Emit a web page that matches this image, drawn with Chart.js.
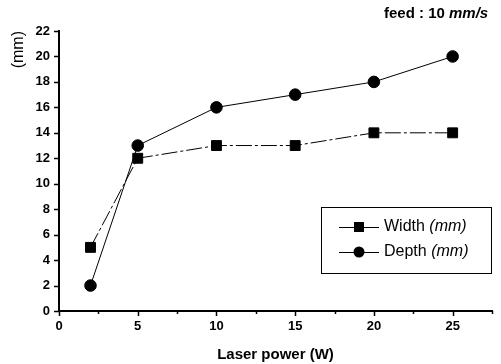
<!DOCTYPE html>
<html>
<head>
<meta charset="utf-8">
<script src="https://cdn.jsdelivr.net/npm/chart.js@4/dist/chart.umd.min.js"></script>
<style>
  html, body { margin: 0; padding: 0; background: #fff; }
  #wrap { width: 501px; height: 364px; }
</style>
</head>
<body>
<div id="wrap"><canvas id="lineChart" width="501" height="364"></canvas></div>
<script>
// values
const power = [2, 5, 10, 15, 20, 25];
const widthMM = [5, 12, 13, 13, 14, 14];
const depthMM = [2, 13, 16, 17, 18, 20];

const xMajorEvery = 5;
const yMajorEvery = 2;

Chart.defaults.font.family = "'Liberation Sans', Arial, sans-serif";
Chart.defaults.color = "#000";

function toPoints(xs, ys) {
    return xs.map((x, i) => ({ x: x, y: ys[i] }));
}

// outward tick marks, long for labelled ticks, short for the others
const tickMarks = {
    id: "tickMarks",
    afterDraw(chart) {
        const ctx = chart.ctx;
        const xs = chart.scales.x;
        const ys = chart.scales.y;
        ctx.save();
        ctx.strokeStyle = "#000";
        ctx.lineWidth = 1.5;
        ctx.beginPath();
        ys.ticks.forEach(t => {
            const py = Math.round(ys.getPixelForValue(t.value)) + 0.5;
            const len = t.value % yMajorEvery === 0 ? 5 : 3;
            ctx.moveTo(ys.right - len, py);
            ctx.lineTo(ys.right, py);
        });
        xs.ticks.forEach(t => {
            const px = Math.round(xs.getPixelForValue(t.value)) + 0.5;
            const len = t.value % xMajorEvery === 0 ? 5 : 3;
            ctx.moveTo(px, xs.top);
            ctx.lineTo(px, xs.top + len);
        });
        ctx.stroke();
        ctx.restore();
    }
};

// boxed legend with italic units, plus the feed note
const notes = {
    id: "notes",
    afterDraw(chart) {
        const ctx = chart.ctx;
        ctx.save();

        // feed : 10 mm/s
        ctx.fillStyle = "#000";
        ctx.textBaseline = "middle";
        ctx.font = "bold 15px 'Liberation Sans', Arial, sans-serif";
        const part1 = "feed : 10 ";
        ctx.fillText(part1, 384, 14);
        const w1 = ctx.measureText(part1).width;
        ctx.font = "italic bold 15px 'Liberation Sans', Arial, sans-serif";
        ctx.fillText("mm/s", 384 + w1, 14);

        // legend box
        ctx.strokeStyle = "#000";
        ctx.lineWidth = 1;
        ctx.strokeRect(321.5, 207.5, 170, 66);

        const rows = [
            { ds: chart.data.datasets[0], name: "Width ", y: 227 },
            { ds: chart.data.datasets[1], name: "Depth ", y: 252 }
        ];
        rows.forEach(r => {
            ctx.beginPath();
            ctx.lineWidth = 1;
            ctx.moveTo(339, r.y + 0.5);
            ctx.lineTo(379, r.y + 0.5);
            ctx.stroke();
            ctx.fillStyle = "#000";
            if (r.ds.pointStyle === "rect") {
                ctx.fillRect(354, r.y - 5, 10, 10);
            } else {
                ctx.beginPath();
                ctx.arc(359, r.y, 5.5, 0, Math.PI * 2);
                ctx.fill();
            }
            ctx.font = "16px 'Liberation Sans', Arial, sans-serif";
            ctx.fillText(r.name, 384, r.y);
            const w = ctx.measureText(r.name).width;
            ctx.font = "italic 16px 'Liberation Sans', Arial, sans-serif";
            ctx.fillText("(mm)", 384 + w, r.y);
        });
        ctx.restore();
    }
};

new Chart(document.getElementById("lineChart"), {
    type: "line",
    data: {
        datasets: [{
            label: "Width (mm)",
            data: toPoints(power, widthMM),
            borderColor: "#000",
            backgroundColor: "#000",
            borderWidth: 1,
            borderDash: [16, 3, 3, 3],
            pointStyle: "rect",
            pointRadius: 7,
            tension: 0
        }, {
            label: "Depth (mm)",
            data: toPoints(power, depthMM),
            borderColor: "#000",
            backgroundColor: "#000",
            borderWidth: 1,
            pointStyle: "circle",
            pointRadius: 5.8,
            tension: 0
        }]
    },
    options: {
        responsive: false,
        animation: false,
        layout: { padding: { top: 31, right: 9, left: 0, bottom: 0 } },
        plugins: {
            legend: { display: false },
            tooltip: { enabled: false }
        },
        scales: {
            x: {
                type: "linear",
                min: 0,
                max: 27.5,
                afterFit: s => { s.height = 53; },
                grid: { display: false, drawTicks: false },
                border: { display: true, color: "#000", width: 2 },
                ticks: {
                    stepSize: 2.5,
                    padding: 8,
                    font: { size: 13, weight: "bold" },
                    callback: v => (v % xMajorEvery === 0 ? v : "")
                },
                title: {
                    display: true,
                    text: "Laser power (W)",
                    font: { size: 15, weight: "bold" },
                    padding: { top: 2, bottom: 0 }
                }
            },
            y: {
                min: 0,
                max: 22,
                afterFit: s => { s.width = 59; },
                grid: { display: false, drawTicks: false },
                border: { display: true, color: "#000", width: 2 },
                ticks: {
                    stepSize: 1,
                    padding: 9,
                    font: { size: 13, weight: "bold" },
                    callback: v => (v % yMajorEvery === 0 ? v : "")
                },
                title: {
                    display: true,
                    text: "(mm)",
                    align: "end",
                    font: { size: 16 },
                    padding: { top: 9, bottom: 0 }
                }
            }
        }
    },
    plugins: [tickMarks, notes]
});
</script>
</body>
</html>
